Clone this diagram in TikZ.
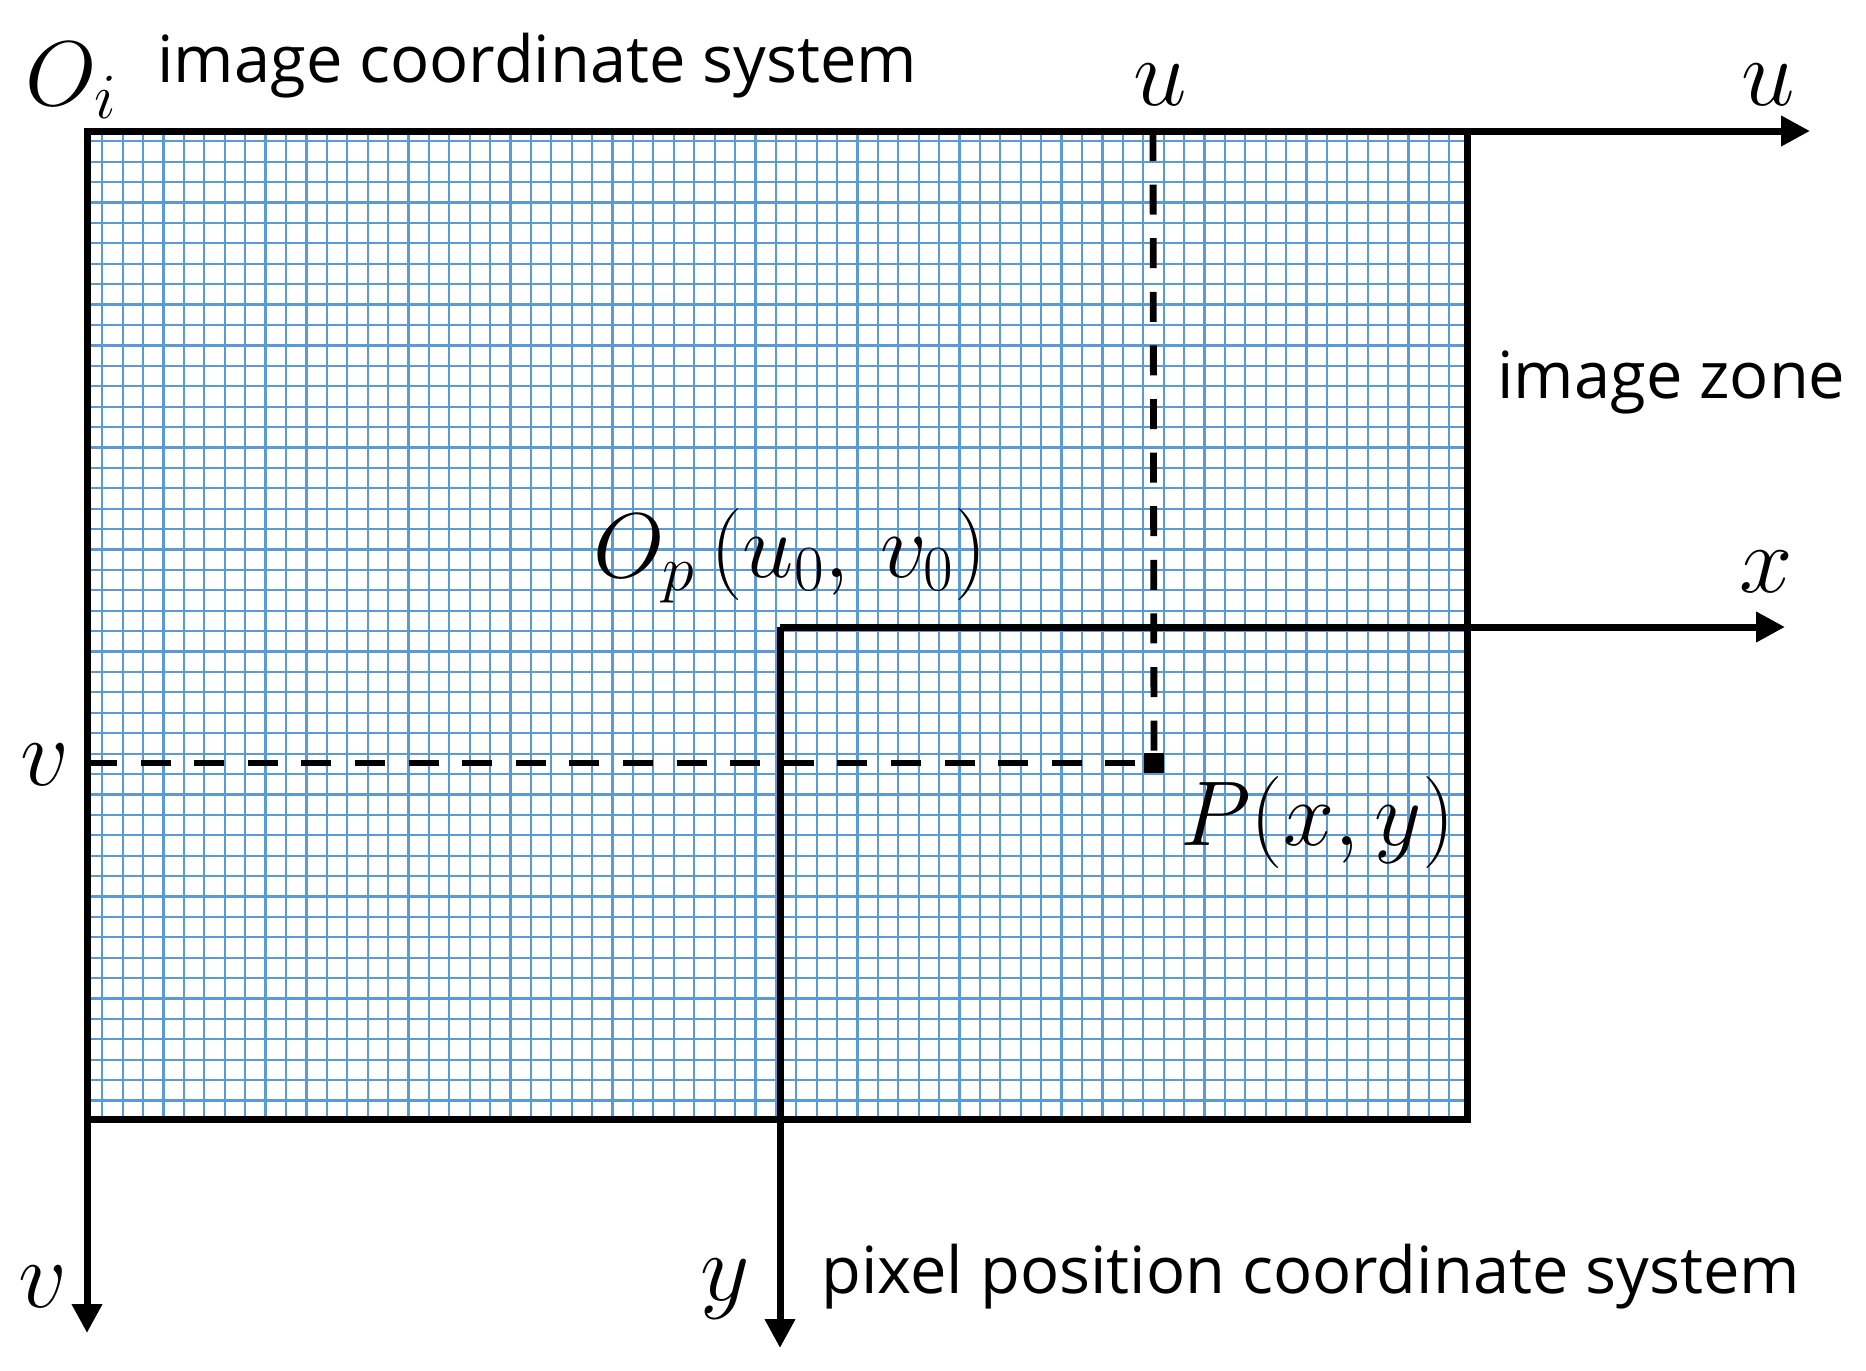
\documentclass[tikz,border=0pt]{standalone}
\usepackage{fix-cm}
\usepackage{fontspec}
\setmainfont{Open Sans}
\usetikzlibrary{arrows.meta}
\definecolor{gridblue}{RGB}{91,155,213}
\tikzset{
  gridline/.style={draw=gridblue,line width=1.1pt},
  border/.style={line width=3.5pt,line join=miter},
  axis/.style={line width=3.5pt,-{Triangle[length=14.5pt,width=14.5pt]}},
  guide/.style={line width=3.4pt,dash pattern=on 15pt off 11.8pt},
  lbl/.style={inner sep=0pt,font=\fontsize{32.5}{39}\selectfont},
  mlbl/.style={inner sep=0pt,font=\fontsize{46}{55}\selectfont},
  slbl/.style={inner sep=0pt,font=\fontsize{48}{58}\selectfont},
  pointmark/.style={fill=black,inner sep=0pt,minimum size=10pt},
}
\begin{document}
\begin{tikzpicture}[x=0.5pt,y=-0.5pt]
\useasboundingbox (0,0) rectangle (1866,1370);
% key coordinates
\coordinate (Oi) at (87,131);
\coordinate (RB) at (1467,1119);
\coordinate (uend) at (1810,131);
\coordinate (vend) at (87,1333);
\coordinate (Op) at (780,627);
\coordinate (xend) at (1785,627);
\coordinate (yend) at (780,1348);
\coordinate (Pu) at (1153,131);
\coordinate (Pv) at (87,763);
% grid
\foreach \k in {0,...,66}
  \draw[gridline] ({102.3+20.41*\k},131) -- ({102.3+20.41*\k},1119);
\foreach \k in {0,...,47}
  \draw[gridline] (87,{141.3+20.41*\k}) -- (1467,{141.3+20.41*\k});
% image zone border
\draw[border] (Oi) rectangle (RB);
% point P and guide lines
\node[pointmark] (P) at (1154,763) {};
\draw[guide] (Pu) -- (P.center);
\draw[guide] (Pv) -- (P.west);
% axes
\draw[axis] (Oi) -- (uend);
\draw[axis] (Oi) -- (vend);
\draw[axis] (Op) -- (xend);
\draw[axis] (Op) -- (yend);
% labels
\node[mlbl,anchor=base west] (lOi) at (25,105) {$O_i$};
\node[lbl,anchor=base west] (lics) at (157,83) {image coordinate system};
\node[slbl,anchor=base] (lu1) at (1160,105) {$u$};
\node[slbl,anchor=base] (lu2) at (1768,105) {$u$};
\node[lbl,anchor=base west] (lzone) at (1497,398) {image zone};
\node[mlbl,anchor=base west] (lOp) at (593,577) {$O_p\,(u_0,\,v_0)$};
\node[slbl,anchor=base] (lx) at (1766,592) {$x$};
\node[slbl,anchor=base] (lv1) at (45,785) {$v$};
\node[mlbl,anchor=base west] (lP) at (1180,845) {$P(x,y)$};
\node[slbl,anchor=base] (lv2) at (43,1307) {$v$};
\node[slbl,anchor=base] (ly) at (725,1300) {$y$};
\node[lbl,anchor=base west] (lpcs) at (821,1293) {pixel position coordinate system};
\end{tikzpicture}
\end{document}
